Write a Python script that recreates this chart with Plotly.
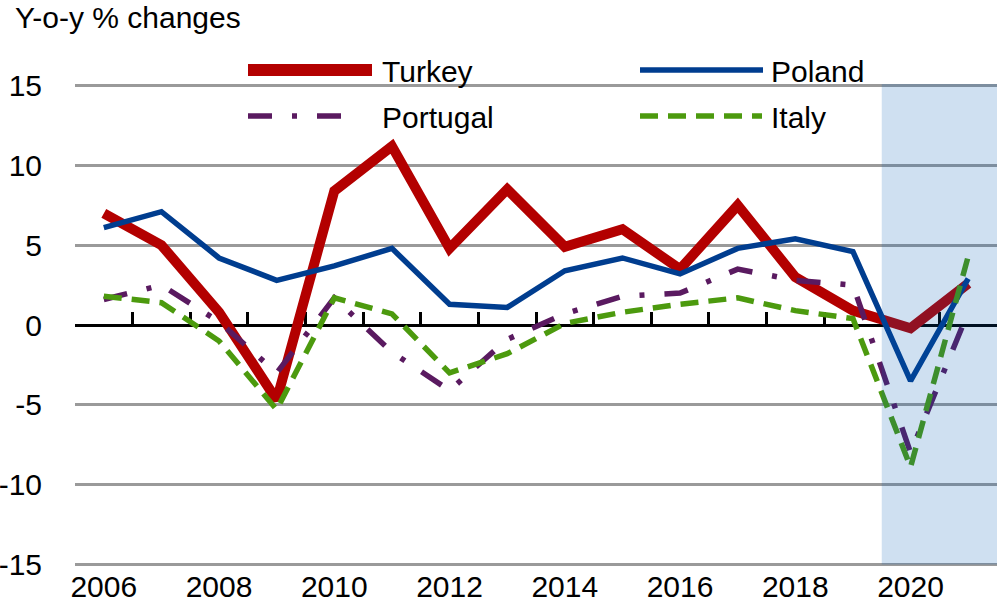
import plotly.graph_objects as go

years = list(range(2006, 2022))
turkey = [7.0, 5.0, 0.8, -4.7, 8.4, 11.2, 4.8, 8.5, 4.9, 6.0, 3.5, 7.5, 3.0, 0.9, -0.2, 2.6]
poland = [6.1, 7.1, 4.2, 2.8, 3.7, 4.8, 1.3, 1.1, 3.4, 4.2, 3.2, 4.8, 5.4, 4.6, -3.5, 2.9]
portugal = [1.6, 2.5, 0.2, -3.0, 1.7, -1.7, -4.1, -0.9, 0.7, 1.8, 2.0, 3.5, 2.8, 2.5, -8.0, 0.8]
italy = [1.8, 1.4, -1.0, -5.3, 1.7, 0.7, -3.0, -1.8, 0.1, 0.8, 1.3, 1.7, 0.9, 0.4, -8.9, 4.3]

xtick_vals = [2006, 2008, 2010, 2012, 2014, 2016, 2018, 2020]
ytick_vals = [15, 10, 5, 0, -5, -10, -15]
ytick_text = ["15", "10", "5", "0", "-5", "-10", "-15"]
boundary_ticks = [y + 0.5 for y in range(2005, 2022)]

FONT = "Liberation Sans, Arial, sans-serif"
FS = 30
series = [
    ("Turkey", turkey, "#B30000", 10, "solid"),
    ("Poland", poland, "#003D8F", 5.5, "solid"),
    ("Portugal", portugal, "#5A1A60", 5.5, "24px,20px,5px,20px"),
    ("Italy", italy, "#4C9A0E", 5.5, "18px,10px"),
]

fig = go.Figure()
for name, vals, color, w, dash in series:
    fig.add_trace(go.Scatter(x=years, y=vals, mode="lines", name=name,
                             line=dict(color=color, width=w, dash=dash),
                             showlegend=False, hoverinfo="skip"))

# dummy trace to make the label axis render
fig.add_trace(go.Scatter(x=[2006], y=[0], xaxis="x2", mode="markers",
                         marker=dict(opacity=0), showlegend=False, hoverinfo="skip"))

W, H = 1000, 610
PL, PR, PT, PB = 75, 997, 84, 566   # plot area in page pixels
L, R, T, B = PL, W - PR, PT, H - PB
pw = PR - PL
ph = PB - PT


def px(q):
    return (q - PL) / pw


def py(p):
    return (PB - p) / ph


shapes = [
    dict(type="rect", xref="x", yref="y", x0=2019.5, x1=2021.5, y0=-15, y1=15.3,
         fillcolor="rgba(0,92,181,0.19)", line=dict(width=0), layer="above"),
]
annotations = [
    dict(text="Y-o-y % changes", xref="paper", yref="paper", x=px(13), y=py(17),
         xanchor="left", yanchor="middle", showarrow=False,
         font=dict(family=FONT, size=FS, color="black")),
]
legend_items = [
    ("Turkey", 248, 372, 70, 0),
    ("Poland", 640, 763, 70, 1),
    ("Portugal", 248, 357, 116, 2),
    ("Italy", 640, 762, 116, 3),
]
for name, x0, x1, yy, idx in legend_items:
    color, w, dash = series[idx][2], series[idx][3], series[idx][4]
    shapes.append(dict(type="line", xref="paper", yref="paper", x0=px(x0), x1=px(x1),
                       y0=py(yy), y1=py(yy),
                       line=dict(color=color, width=w + (2 if idx == 0 else 0), dash=dash)))
    annotations.append(dict(text=name, xref="paper", yref="paper",
                            x=px(380 if x0 < 500 else 769), y=py(yy + 1),
                            xanchor="left", yanchor="middle", showarrow=False,
                            font=dict(family=FONT, size=FS, color="black")))

fig.update_layout(
    width=W, height=H,
    margin=dict(l=L, r=R, t=T, b=B, autoexpand=False),
    plot_bgcolor="white", paper_bgcolor="white",
    font=dict(family=FONT, size=FS, color="black"),
    showlegend=False,
    xaxis=dict(range=[2005.5, 2021.5], anchor="free", position=0.5, automargin=False,
               showline=True, linecolor="black", linewidth=3,
               tickmode="array", tickvals=boundary_ticks, ticks="inside",
               ticklen=12, tickwidth=3, tickcolor="black",
               showticklabels=False, showgrid=False, zeroline=False,
               layer="below traces"),
    xaxis2=dict(range=[2005.5, 2021.5], overlaying="x", anchor="y", side="bottom",
                automargin=False,
                tickmode="array", tickvals=xtick_vals, ticks="",
                showline=False, showgrid=False, zeroline=False,
                tickfont=dict(family=FONT, size=FS, color="black")),
    yaxis=dict(range=[-15.1, 15.1], tickmode="array", tickvals=ytick_vals, automargin=False,
               ticktext=ytick_text, showgrid=True, gridcolor="#9a9a9a", gridwidth=2.5,
               zeroline=False, showline=False, ticks="",
               ticklabelstandoff=32,
               tickfont=dict(family=FONT, size=FS, color="black")),
    shapes=shapes,
    annotations=annotations,
)

fig.write_html("out.html", config={"displayModeBar": False},
               post_script="document.body.style.margin='0';document.body.style.overflow='hidden';")
